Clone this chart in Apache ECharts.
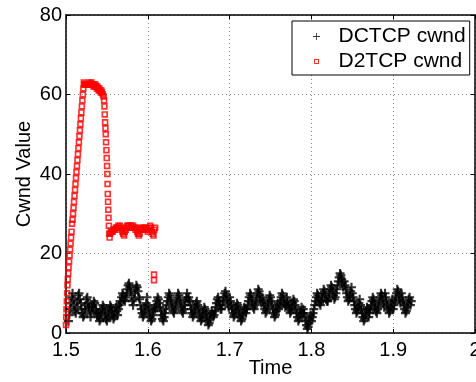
<!DOCTYPE html>
<html><head><meta charset="utf-8">
<script src="https://cdn.jsdelivr.net/npm/echarts@6/dist/echarts.min.js"></script>
<style>html,body{margin:0;padding:0;background:#fff}#c{width:476px;height:382px}</style>
</head><body><div id="c"></div>
<script>
// ---- data ----
const xTicks = [1.5, 1.6, 1.7, 1.8, 1.9, 2];
const yTicks = [0, 20, 40, 60, 80];
const seriesNames = ['DCTCP cwnd', 'D2TCP cwnd'];
const xTitle = 'Time';
const yTitle = 'Cwnd Value';

// DCTCP samples: one every 1 ms starting at 1.503 s
const dctcpStart = 1.503, dctcpStep = 0.001;
const dctcpCwnd = [
  3,4.5,6,7.5,9,10,8.5,
  7,5.5,5,6.5,8,9.5,10,8.5,7.5,6,
  5,4,4.5,6,7,8.5,9,7.5,6.5,5.5,
  4,5,6.5,7,8,7.5,6,5.5,4.5,5,
  4,3,3.5,5,6,7,6.5,5.5,4.5,3.5,
  3,4,5,6,7,6.5,5.5,4.5,3.5,4,
  5,6.5,5.5,4.5,6,7,8,7.5,9,10,
  9.5,8.5,8,9,10,11,12,12.5,11.5,10.5,
  9.5,8,7,8.5,10,11,12,11.5,10.5,9,
  8.5,7,6,5,4,4.5,5.5,6.5,7.5,9,
  7,6,5,4,3,3.5,4.5,5.5,6.5,6,
  7,8,9,8.5,7.5,6.5,5.5,4.5,3.5,3,
  4,5,6,7,8,9,10,9.5,8.5,7.5,
  6.5,5.5,5,6,7,8,9,10,9.5,8.5,
  7.5,6.5,5.5,5,6,7,8,9,10,8.5,
  9,8,7,6,5,4,4.5,5.5,6.5,7.5,
  8,7,6,5,4,3,3.5,4.5,5.5,6.5,
  6,5,4,3,2,2.5,3.5,4.5,5.5,5,
  4,4.5,5.5,6.5,7.5,8.5,9,8,7,6,
  6,7,8,9,10,10.5,9.5,8.5,7.5,6.5,
  9,8,7,6,5,4,4.5,5.5,6.5,7.5,
  7,6,5,4,3,3.5,4.5,5.5,6.5,6,
  5,6,7,8,9,10,9.5,8.5,7.5,6.5,
  6,7,8,9,10,11,10.5,9.5,8.5,7.5,
  9,8,7,6,5,5.5,6.5,7.5,8.5,9.5,
  9,8,7,6,5,4,4.5,5.5,6.5,7.5,
  6,7,8,9,10,9.5,8.5,7.5,6.5,7,
  9,8,7,6,5,5.5,6.5,7.5,8.5,8,
  7,6,5,4,3,3.5,4.5,5.5,6.5,5,
  6,5,4,3,2,1,1.5,2.5,3.5,4.5,
  3,4,5,6,7,8,9,10,9.5,8.5,
  7.5,7,8,9,10,11,10.5,9.5,8.5,8,
  8,9,10,11,12,11.5,10.5,9.5,8.5,9,
  10,11,12,13,14,15,14.5,13.5,12.5,11.5,
  13,12,11,10,9,8,8.5,9.5,10.5,11.5,
  10,9,8,7,6,5,5.5,6.5,7.5,8.5,
  7,6,5,4,3,3.5,4.5,5.5,6.5,6,
  4,5,6,7,8,9,8.5,7.5,6.5,5.5,
  5,6,7,8,9,10,9.5,8.5,7.5,6.5,
  10,9,8,7,6,5,5.5,6.5,7.5,8.5,
  6,7,8,9,10,11,10.5,9.5,8.5,7.5,
  10,9,8,7,6,5,5.5,6.5,7.5,8.5,
  9,7,8
];

const d2tcpTime = [
  1.5000,1.5003,1.5006,1.5010,1.5014,1.5018,1.5022,1.5027,1.5032,1.5038,1.5044,1.5050,
  1.5056,1.5062,1.5068,1.5074,1.5080,1.5086,1.5092,1.5098,1.5104,1.5110,1.5116,1.5122,1.5128,1.5134,
  1.5140,1.5146,1.5152,1.5158,1.5164,1.5170,1.5176,1.5182,1.5188,1.5194,1.5200,1.5206,1.5212,1.5218,
  1.5224,1.5232,1.5240,1.5248,1.5256,1.5264,1.5272,1.5280,1.5288,1.5296,1.5304,1.5312,1.5320,1.5328,
  1.5336,1.5344,1.5352,1.5360,1.5368,1.5376,1.5384,1.5392,1.5400,1.5408,1.5416,1.5424,1.5432,1.5440,
  1.5450,1.5460,1.5466,1.5470,1.5474,1.5478,1.5482,1.5486,1.5490,1.5494,1.5498,1.5502,1.5505,1.5508,
  1.5511,1.5514,1.5517,1.5520,1.5524,1.5528,1.5533,1.5540,1.5548,
  1.556,1.557,1.558,1.559,1.560,1.561,1.562,1.563,1.564,1.565,
  1.566,1.567,1.568,1.569,1.570,1.571,1.572,1.573,1.574,1.575,
  1.576,1.577,1.578,1.579,1.580,1.581,1.582,1.583,1.584,1.585,
  1.586,1.587,1.588,1.589,1.590,1.591,1.592,1.593,1.594,1.595,
  1.596,1.597,1.598,1.599,1.600,1.601,1.602,1.603,1.604,1.605,
  1.606,1.607,1.608,1.609,
  1.6076,1.6076
];
const d2tcpCwnd = [
  2,4,6,8,10,12,13.5,15,16.5,18,19.5,21,
  22.5,24,25.5,27.5,28.5,30,31.5,33,34.5,36,37.5,39,40.5,42,
  43.5,45,46.5,48,49.5,51,52.5,54,55.5,57,58.5,60,61.5,63,
  62.5,62.5,62.5,62.5,62.5,62.5,62.5,62.5,63,62.5,62.5,63,62.5,62.5,
  62,62.5,62,62.5,62,61.5,62,61.5,61,61.5,61,60.5,61,60.5,
  60,59.5,58.5,57,55,53,51.5,50,48,46,44,42,40,37.5,
  35,33,31,29,27,25,24,25,25.5,
  25.5,25.5,26,26,26,26.5,26.5,26.5,27,26.5,
  27,26.5,26,25.5,25,24.5,25.5,26,26.5,27,
  27,27,26.5,27,27,26.5,27,26.5,26.5,26,
  26.5,25.5,25,24.5,25,26,26.5,26,26.5,26,
  26.5,26,26.5,26,25.5,26,26.5,27,26.5,25.5,
  25,24.5,26,26.5,
  14.7,13.3
];

// ---- chart ----
const FONT = 'Liberation Sans, Arial, Helvetica, sans-serif';
const plusPath = 'path://M3.8,0H6.2V3.8H10V6.2H6.2V10H3.8V6.2H0V3.8H3.8Z';
const plusLegend = 'path://M4.4,0H5.6V4.4H10V5.6H5.6V10H4.4V5.6H0V4.4H4.4Z';
const squarePath = 'path://M0,0H10V10H0ZM2.6,2.6V7.4H7.4V2.6Z';
const squareLegend = 'path://M-2,-2M12,12M0,0H10V10H0ZM2,2V8H8V2Z';

const dctcpData = dctcpCwnd.map((v, i) => [+(dctcpStart + i * dctcpStep).toFixed(3), v]);
const d2tcpData = d2tcpTime.map((t, i) => [t, d2tcpCwnd[i]]);

const chart = echarts.init(document.getElementById('c'), null, {renderer: 'canvas'});
const axisCommon = {
  axisLine: {show: true, onZero: false, lineStyle: {color: '#000', width: 1.5}},
  axisTick: {show: true, inside: true, length: 4, lineStyle: {color: '#000', width: 1}},
};
chart.setOption({
  animation: false,
  backgroundColor: '#fff',
  textStyle: {fontFamily: FONT},
  grid: {left: 66, right: 1, top: 15, bottom: 49, containLabel: false, outerBoundsMode: 'none'},
  legend: {
    orient: 'vertical', left: 292, top: 21,
    backgroundColor: '#fff', borderColor: '#000', borderWidth: 1,
    padding: [5, 4, 3, 21], itemWidth: 34, itemHeight: 7, itemGap: 4,
    selectedMode: false,
    textStyle: {fontSize: 21, color: '#000', fontFamily: FONT, lineHeight: 20},
    data: [{name: seriesNames[0], icon: plusLegend}, {name: seriesNames[1], icon: squareLegend}]
  },
  xAxis: [
    Object.assign({
      type: 'value', min: xTicks[0], max: xTicks[xTicks.length - 1], interval: 0.1, position: 'bottom',
      name: xTitle, nameLocation: 'middle', nameGap: 25, nameMoveOverlap: false,
      nameTextStyle: {fontSize: 20, color: '#000', fontFamily: FONT},
      axisLabel: {fontSize: 20, color: '#000', margin: 7, fontFamily: FONT,
        formatter: v => String(+v.toFixed(1))},
      splitLine: {show: true, lineStyle: {color: '#888', width: 1, type: [1, 3]}}
    }, axisCommon),
    Object.assign({
      type: 'value', min: xTicks[0], max: xTicks[xTicks.length - 1], interval: 0.1, position: 'top',
      axisLabel: {show: false}, splitLine: {show: false}
    }, axisCommon)
  ],
  yAxis: [
    Object.assign({
      type: 'value', min: yTicks[0], max: yTicks[yTicks.length - 1], interval: 20, position: 'left',
      name: yTitle, nameLocation: 'middle', nameGap: 32, nameMoveOverlap: false,
      nameTextStyle: {fontSize: 20, color: '#000', fontFamily: FONT},
      axisLabel: {fontSize: 20, color: '#000', margin: 4, fontFamily: FONT},
      splitLine: {show: true, lineStyle: {color: '#888', width: 1, type: [1, 3]}}
    }, axisCommon),
    Object.assign({
      type: 'value', min: yTicks[0], max: yTicks[yTicks.length - 1], interval: 20, position: 'right',
      axisLabel: {show: false}, splitLine: {show: false}
    }, axisCommon)
  ],
  series: [
    {
      name: seriesNames[0], type: 'scatter', data: dctcpData,
      symbol: plusPath, symbolSize: 9, itemStyle: {color: '#000'},
      emphasis: {disabled: true}, clip: false
    },
    {
      name: seriesNames[1], type: 'scatter', data: d2tcpData,
      symbol: squarePath, symbolSize: 6.5, itemStyle: {color: '#ff0000'},
      emphasis: {disabled: true}, clip: false
    }
  ]
});
</script></body></html>
